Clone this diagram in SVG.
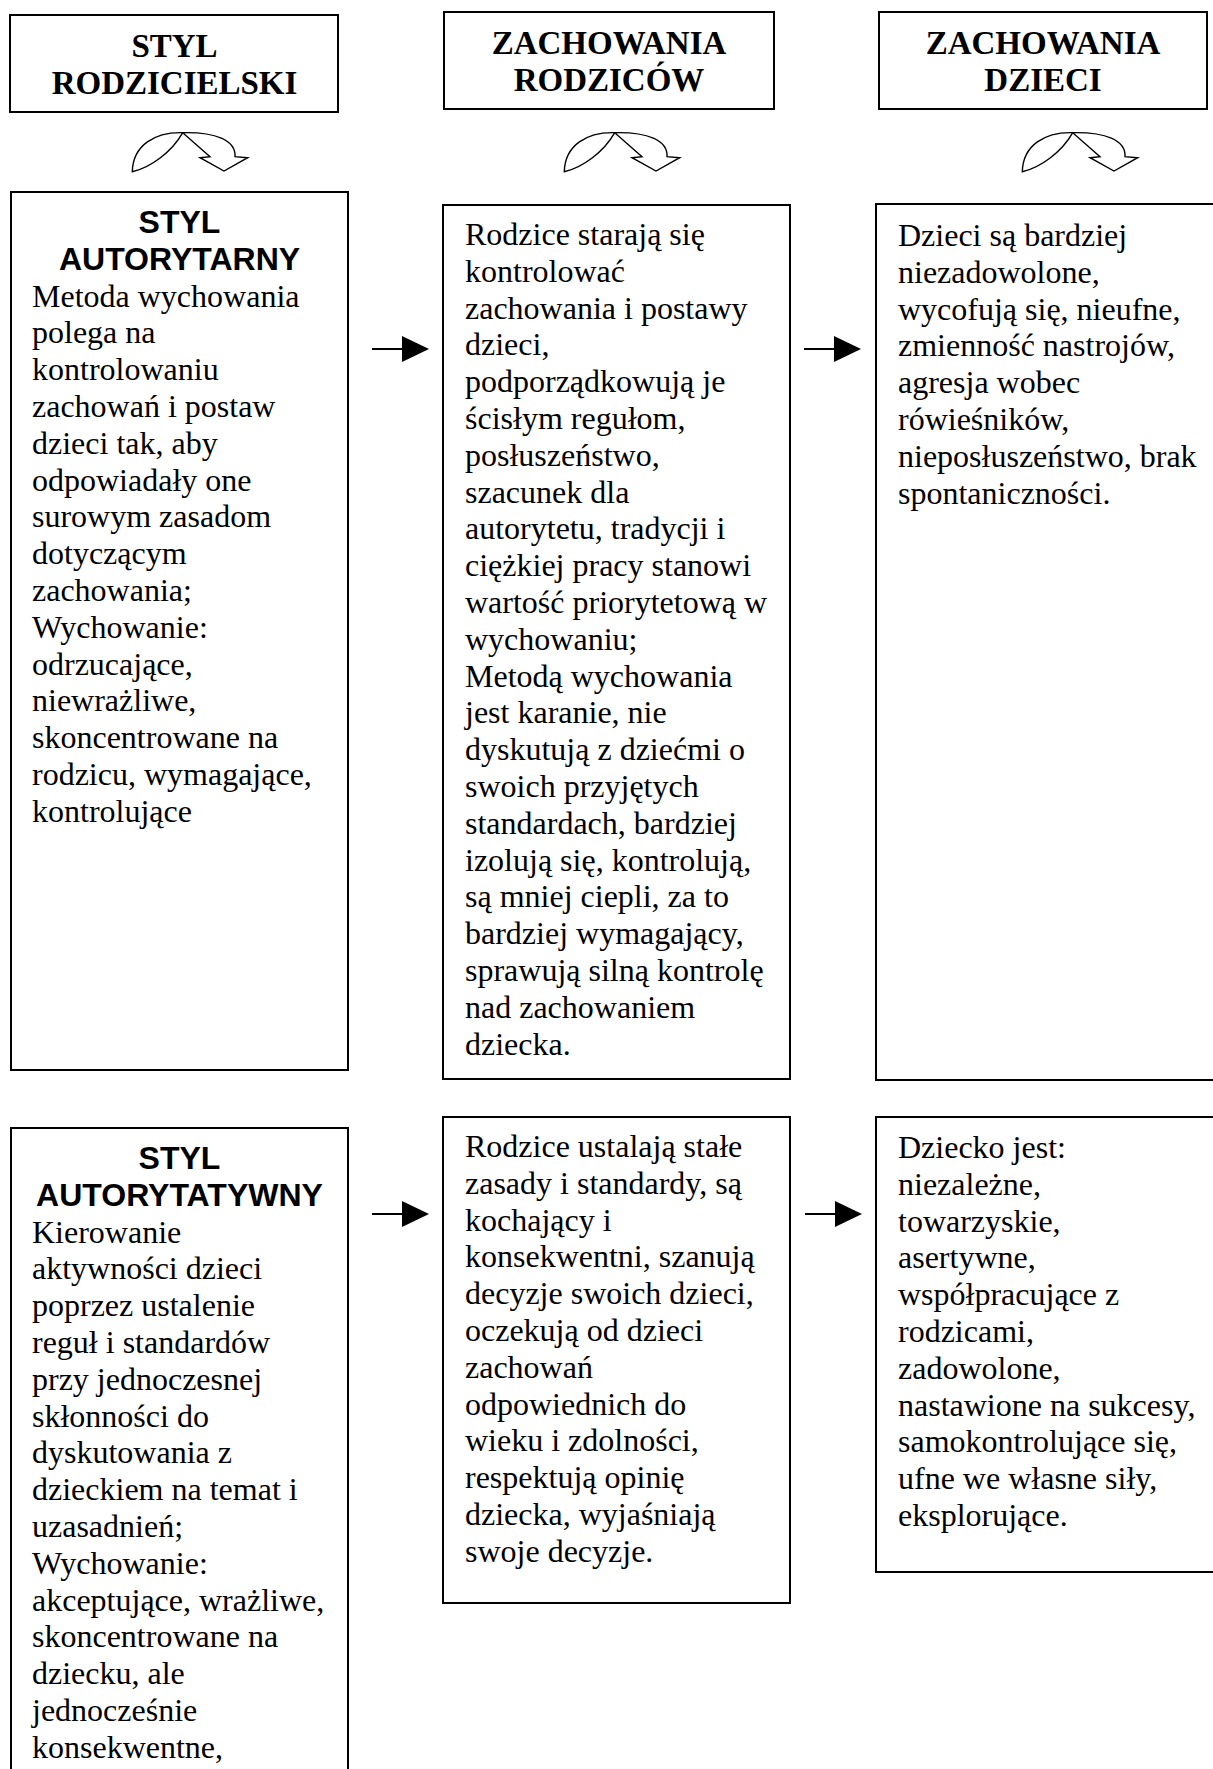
<svg xmlns="http://www.w3.org/2000/svg" xmlns:xlink="http://www.w3.org/1999/xlink" width="1213" height="1769" viewBox="0 0 1213 1769">
<style>
.box{fill:#fff;stroke:#000;stroke-width:2}
.hdr{font-family:"Liberation Serif","Times New Roman",serif;font-weight:bold;font-size:33px;fill:#000;text-anchor:middle}
.ttl{font-family:"Liberation Sans",Arial,sans-serif;font-weight:bold;font-size:32px;fill:#000;text-anchor:middle}
.txt{font-family:"Liberation Serif","Times New Roman",serif;font-size:32px;fill:#000}
.conn{stroke:#000;stroke-width:2;fill:none}
.icon{fill:#fff;stroke:#000;stroke-width:1.4;stroke-linejoin:miter}
</style>
<defs>
<marker id="head" markerUnits="userSpaceOnUse" markerWidth="28" markerHeight="28" viewBox="0 -14 28 28" refX="0" refY="0" orient="auto">
<path d="M0,-13 L27,0 L0,13 Z" fill="#000"/>
</marker>
<symbol id="curve" overflow="visible">
<path class="icon" d="M182.7,132.7 C155,132 133,145 132.3,171.7 C150,168 172,152 182.7,132.7 Z"/>
<path class="icon" d="M182.7,132.7 C215,132 236,140 235,156.7 L247.7,157.7 L224,171 L200,157.7 L210,156.7 Z"/>
</symbol>
</defs>
<rect width="1213" height="1769" fill="#fff"/>

<g id="header-styl">
<rect class="box" x="10" y="15" width="328" height="97"/>
<text class="hdr" x="174.5" y="56.7">STYL</text>
<text class="hdr" x="174.5" y="94.3">RODZICIELSKI</text>
</g>
<g id="header-rodzice">
<rect class="box" x="444" y="12" width="330" height="97"/>
<text class="hdr" x="609" y="53.7">ZACHOWANIA</text>
<text class="hdr" x="609" y="91.3">RODZICÓW</text>
</g>
<g id="header-dzieci">
<rect class="box" x="879" y="12" width="328" height="97"/>
<text class="hdr" x="1043" y="53.7">ZACHOWANIA</text>
<text class="hdr" x="1043" y="91.3">DZIECI</text>
</g>

<g id="icons">
<use xlink:href="#curve" href="#curve"/>
<use xlink:href="#curve" href="#curve" transform="translate(432,0)"/>
<use xlink:href="#curve" href="#curve" transform="translate(890,0)"/>
</g>

<g id="styl-autorytarny">
<rect class="box" x="11" y="192" width="337" height="878"/>
<text class="ttl" x="179.5" y="233">STYL</text>
<text class="ttl" x="179.5" y="269.8">AUTORYTARNY</text>
<text class="txt" x="32" y="306.6"><tspan x="32">Metoda wychowania</tspan><tspan x="32" dy="36.8">polega na</tspan><tspan x="32" dy="36.8">kontrolowaniu</tspan><tspan x="32" dy="36.8">zachowań i postaw</tspan><tspan x="32" dy="36.8">dzieci tak, aby</tspan><tspan x="32" dy="36.8">odpowiadały one</tspan><tspan x="32" dy="36.8">surowym zasadom</tspan><tspan x="32" dy="36.8">dotyczącym</tspan><tspan x="32" dy="36.8">zachowania;</tspan><tspan x="32" dy="36.8">Wychowanie:</tspan><tspan x="32" dy="36.8">odrzucające,</tspan><tspan x="32" dy="36.8">niewrażliwe,</tspan><tspan x="32" dy="36.8">skoncentrowane na</tspan><tspan x="32" dy="36.8">rodzicu, wymagające,</tspan><tspan x="32" dy="36.8">kontrolujące</tspan></text>
</g>

<g id="rodzice-autorytarny">
<rect class="box" x="443" y="205" width="347" height="874"/>
<text class="txt" x="465" y="245"><tspan x="465">Rodzice starają się</tspan><tspan x="465" dy="36.8">kontrolować</tspan><tspan x="465" dy="36.8">zachowania i postawy</tspan><tspan x="465" dy="36.8">dzieci,</tspan><tspan x="465" dy="36.8">podporządkowują je</tspan><tspan x="465" dy="36.8">ścisłym regułom,</tspan><tspan x="465" dy="36.8">posłuszeństwo,</tspan><tspan x="465" dy="36.8">szacunek dla</tspan><tspan x="465" dy="36.8">autorytetu, tradycji i</tspan><tspan x="465" dy="36.8">ciężkiej pracy stanowi</tspan><tspan x="465" dy="36.8">wartość priorytetową w</tspan><tspan x="465" dy="36.8">wychowaniu;</tspan><tspan x="465" dy="36.8">Metodą wychowania</tspan><tspan x="465" dy="36.8">jest karanie, nie</tspan><tspan x="465" dy="36.8">dyskutują z dziećmi o</tspan><tspan x="465" dy="36.8">swoich przyjętych</tspan><tspan x="465" dy="36.8">standardach, bardziej</tspan><tspan x="465" dy="36.8">izolują się, kontrolują,</tspan><tspan x="465" dy="36.8">są mniej ciepli, za to</tspan><tspan x="465" dy="36.8">bardziej wymagający,</tspan><tspan x="465" dy="36.8">sprawują silną kontrolę</tspan><tspan x="465" dy="36.8">nad zachowaniem</tspan><tspan x="465" dy="36.8">dziecka.</tspan></text>
</g>

<g id="dzieci-autorytarny">
<rect class="box" x="876" y="204" width="350" height="876"/>
<text class="txt" x="898" y="246"><tspan x="898">Dzieci są bardziej</tspan><tspan x="898" dy="36.8">niezadowolone,</tspan><tspan x="898" dy="36.8">wycofują się, nieufne,</tspan><tspan x="898" dy="36.8">zmienność nastrojów,</tspan><tspan x="898" dy="36.8">agresja wobec</tspan><tspan x="898" dy="36.8">rówieśników,</tspan><tspan x="898" dy="36.8">nieposłuszeństwo, brak</tspan><tspan x="898" dy="36.8">spontaniczności.</tspan></text>
</g>

<g id="styl-autorytatywny">
<rect class="box" x="11" y="1128" width="337" height="660"/>
<text class="ttl" x="179.5" y="1169">STYL</text>
<text class="ttl" x="179.5" y="1205.8">AUTORYTATYWNY</text>
<text class="txt" x="32" y="1242.6"><tspan x="32">Kierowanie</tspan><tspan x="32" dy="36.8">aktywności dzieci</tspan><tspan x="32" dy="36.8">poprzez ustalenie</tspan><tspan x="32" dy="36.8">reguł i standardów</tspan><tspan x="32" dy="36.8">przy jednoczesnej</tspan><tspan x="32" dy="36.8">skłonności do</tspan><tspan x="32" dy="36.8">dyskutowania z</tspan><tspan x="32" dy="36.8">dzieckiem na temat i</tspan><tspan x="32" dy="36.8">uzasadnień;</tspan><tspan x="32" dy="36.8">Wychowanie:</tspan><tspan x="32" dy="36.8">akceptujące, wrażliwe,</tspan><tspan x="32" dy="36.8">skoncentrowane na</tspan><tspan x="32" dy="36.8">dziecku, ale</tspan><tspan x="32" dy="36.8">jednocześnie</tspan><tspan x="32" dy="36.8">konsekwentne,</tspan></text>
</g>

<g id="rodzice-autorytatywny">
<rect class="box" x="443" y="1117" width="347" height="486"/>
<text class="txt" x="465" y="1157"><tspan x="465">Rodzice ustalają stałe</tspan><tspan x="465" dy="36.8">zasady i standardy, są</tspan><tspan x="465" dy="36.8">kochający i</tspan><tspan x="465" dy="36.8">konsekwentni, szanują</tspan><tspan x="465" dy="36.8">decyzje swoich dzieci,</tspan><tspan x="465" dy="36.8">oczekują od dzieci</tspan><tspan x="465" dy="36.8">zachowań</tspan><tspan x="465" dy="36.8">odpowiednich do</tspan><tspan x="465" dy="36.8">wieku i zdolności,</tspan><tspan x="465" dy="36.8">respektują opinię</tspan><tspan x="465" dy="36.8">dziecka, wyjaśniają</tspan><tspan x="465" dy="36.8">swoje decyzje.</tspan></text>
</g>

<g id="dzieci-autorytatywny">
<rect class="box" x="876" y="1117" width="350" height="455"/>
<text class="txt" x="898" y="1158"><tspan x="898">Dziecko jest:</tspan><tspan x="898" dy="36.8">niezależne,</tspan><tspan x="898" dy="36.8">towarzyskie,</tspan><tspan x="898" dy="36.8">asertywne,</tspan><tspan x="898" dy="36.8">współpracujące z</tspan><tspan x="898" dy="36.8">rodzicami,</tspan><tspan x="898" dy="36.8">zadowolone,</tspan><tspan x="898" dy="36.8">nastawione na sukcesy,</tspan><tspan x="898" dy="36.8">samokontrolujące się,</tspan><tspan x="898" dy="36.8">ufne we własne siły,</tspan><tspan x="898" dy="36.8">eksplorujące.</tspan></text>
</g>

<g id="connectors">
<line class="conn" x1="372" y1="349" x2="402" y2="349" marker-end="url(#head)"/>
<line class="conn" x1="804" y1="349" x2="834" y2="349" marker-end="url(#head)"/>
<line class="conn" x1="372" y1="1214" x2="402" y2="1214" marker-end="url(#head)"/>
<line class="conn" x1="805" y1="1214" x2="835" y2="1214" marker-end="url(#head)"/>
</g>
</svg>
